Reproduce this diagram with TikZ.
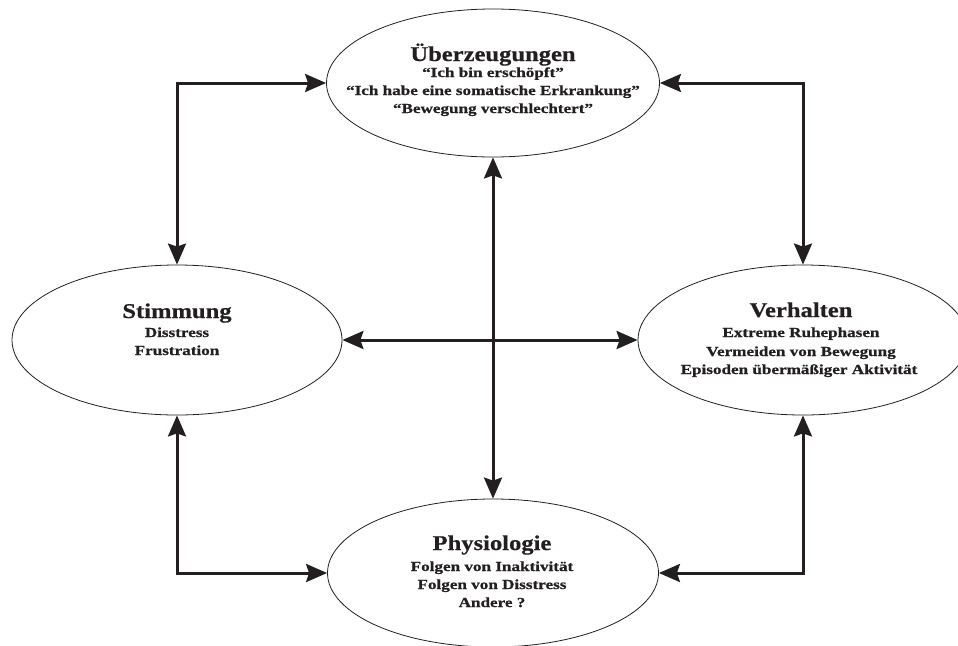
\documentclass[tikz,border=0pt]{standalone}
\usepackage{fontspec}
\setmainfont{Liberation Serif}
\newfontfamily\titlefam{Liberation Serif}[UprightFont={* Bold}, FakeStretch=1.17, FakeBold=0.6]
\newfontfamily\subfam{Liberation Serif}[UprightFont={* Bold}, FakeStretch=1.24, FakeBold=0.8]
\usetikzlibrary{arrows.meta,shapes.geometric}
\definecolor{ink}{HTML}{231F20}
\tikzset{
  bubble/.style={ellipse, draw=ink, line width=0.8pt, inner sep=0pt},
  ttl/.style={anchor=base, inner sep=0pt, text=ink, font=\titlefam\fontsize{21}{24}\selectfont},
  sub/.style={anchor=base, inner sep=0pt, text=ink, font=\subfam\fontsize{13.8}{15}\selectfont},
  link/.style={draw=ink, line width=3pt,
    {Stealth[length=21pt,width=18pt,inset=3pt]}-{Stealth[length=21pt,width=18pt,inset=3pt]}},
}
\begin{document}
\begin{tikzpicture}[x=1pt,y=-1pt]
\useasboundingbox (0,0) rectangle (958,645);
\clip (0,0) rectangle (958,645);
% ellipses
\node[bubble, minimum width=333pt, minimum height=148pt] (T) at (493,83) {};
\node[bubble, minimum width=330pt, minimum height=150pt] (L) at (177,340) {};
\node[bubble, minimum width=330pt, minimum height=150pt] (R) at (803,340) {};
\node[bubble, minimum width=331pt, minimum height=148pt] (B) at (493,573) {};
% texts: Ueberzeugungen
\node[ttl] (t0) at (493,61) {Überzeugungen};
\node[sub] (t1) at (493,77) {“Ich bin erschöpft”};
\node[sub] (t2) at (493,95) {“Ich habe eine somatische Erkrankung”};
\node[sub] (t3) at (493,113) {“Bewegung verschlechtert”};
% Stimmung
\node[ttl] (l0) at (177,318) {Stimmung};
\node[sub] (l1) at (177,337) {Disstress};
\node[sub] (l2) at (177,355) {Frustration};
% Verhalten
\node[ttl] (r0) at (801,317) {Verhalten};
\node[sub] (r1) at (801,337) {Extreme Ruhephasen};
\node[sub] (r2) at (801,356) {Vermeiden von Bewegung};
\node[sub] (r3) at (799,374) {Episoden übermäßiger Aktivität};
% Physiologie
\node[ttl] (b0) at (492,550) {Physiologie};
\node[sub] (b1) at (492,571) {Folgen von Inaktivität};
\node[sub] (b2) at (492,589) {Folgen von Disstress};
\node[sub] (b3) at (492,607) {Andere ?};
% connectors
\draw[link] (L.north) |- (T.west);
\draw[link] (T.east) -| (R.north);
\draw[link] (L.south) |- (B.west);
\draw[link] (B.east) -| (R.south);
\draw[link] (T.south) -- (B.north);
\draw[link] (L.east) -- (R.west);
\end{tikzpicture}
\end{document}
